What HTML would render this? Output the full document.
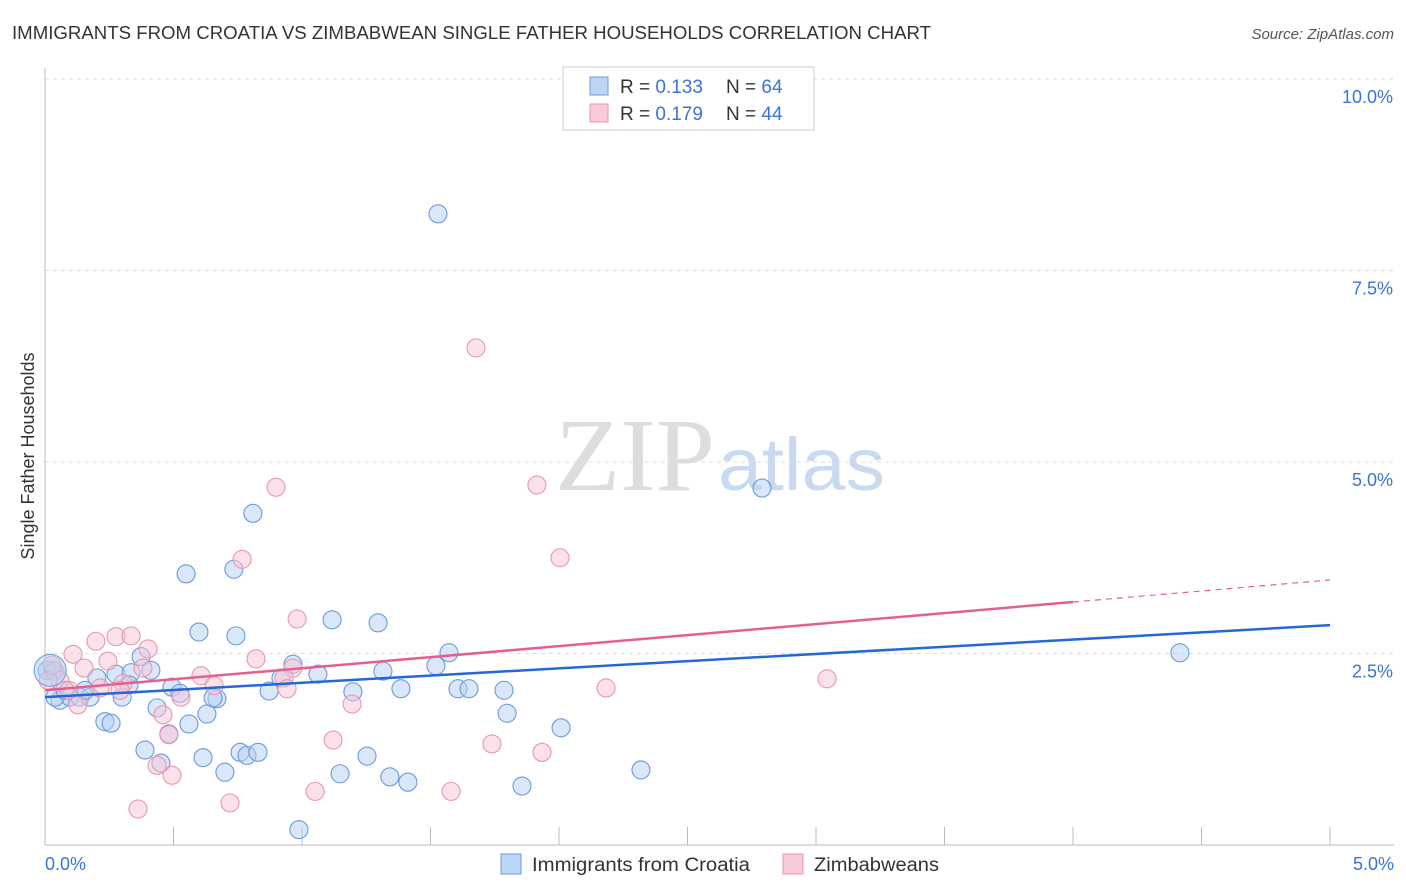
<!DOCTYPE html>
<html><head><meta charset="utf-8"><style>
body{margin:0;background:#fff;font-family:"Liberation Sans",sans-serif;}
#wrap{position:relative;width:1406px;height:892px;overflow:hidden;}
</style></head><body><div id="wrap">
<svg id="svg" width="1406" height="892" xmlns="http://www.w3.org/2000/svg">
<text x="12" y="39" font-size="18" fill="#333" textLength="919" lengthAdjust="spacingAndGlyphs">IMMIGRANTS FROM CROATIA VS ZIMBABWEAN SINGLE FATHER HOUSEHOLDS CORRELATION CHART</text>
<text x="1394" y="39" font-size="15" fill="#555" font-style="italic" text-anchor="end">Source: ZipAtlas.com</text>
<text x="555" y="490" font-size="104" fill="#ddd" textLength="160" lengthAdjust="spacingAndGlyphs" font-family="Liberation Serif,serif">ZIP</text>
<text x="718" y="490" font-size="74" fill="#c9daf0" textLength="167" lengthAdjust="spacingAndGlyphs">atlas</text>
<g id="grid"></g><g id="pts"></g><g id="lines"></g>
<text transform="translate(34,456) rotate(-90)" font-size="18" fill="#333" text-anchor="middle">Single Father Households</text>
<text x="45" y="870" font-size="18" fill="#3b73d6">0.0%</text>
<text x="1394" y="870" font-size="18" fill="#3b73d6" text-anchor="end">5.0%</text>
<rect x="563" y="67" width="251" height="63" fill="#fff" stroke="#ccc"/>
<rect x="590" y="77" width="18" height="18" fill="#bcd4f5" stroke="#6d9be0"/>
<rect x="590" y="104" width="18" height="18" fill="#f9cbd9" stroke="#e993b0"/>
<text x="620" y="93" font-size="19" fill="#333">R = <tspan fill="#3b73d6">0.133</tspan></text>
<text x="726" y="93" font-size="19" fill="#333">N = <tspan fill="#3b73d6">64</tspan></text>
<text x="620" y="120" font-size="19" fill="#333">R = <tspan fill="#3b73d6">0.179</tspan></text>
<text x="726" y="120" font-size="19" fill="#333">N = <tspan fill="#3b73d6">44</tspan></text>
<rect x="501" y="854" width="20" height="20" fill="#bcd4f5" stroke="#6d9be0"/>
<text x="532" y="871" font-size="19" fill="#333" textLength="218" lengthAdjust="spacingAndGlyphs">Immigrants from Croatia</text>
<rect x="783" y="854" width="20" height="20" fill="#f9cbd9" stroke="#e993b0"/>
<text x="814" y="871" font-size="19" fill="#333" textLength="125" lengthAdjust="spacingAndGlyphs">Zimbabweans</text>
</svg></div>
<script>
const yTicks=[2.5,5.0,7.5,10.0];
const xTicks=[0,0.5,1,1.5,2,2.5,3,3.5,4,4.5,5];
const blueX=[1.529,2.79,0.809,0.549,0.735,0.599,0.743,1.117,1.296,1.572,0.374,0.965,4.416,1.521,1.062,1.315,0.276,0.412,0.335,0.918,0.494,0.202,0.327,0.031,0.058,0.097,0.136,0.175,0.300,0.525,0.669,0.654,0.872,1.198,1.385,1.607,1.650,1.786,0.436,0.630,1.798,0.233,0.257,0.560,2.008,0.482,0.389,0.759,0.786,0.829,0.615,0.451,0.700,1.148,1.253,1.342,1.412,1.856,2.319,0.988,0.039,0.078,0.008,0.156];
const blueY=[8.24,4.66,4.33,3.54,3.60,2.78,2.73,2.94,2.90,2.51,2.46,2.36,2.51,2.34,2.23,2.27,2.23,2.28,2.25,2.18,2.06,2.18,2.09,2.28,1.89,1.93,1.93,1.93,1.93,1.98,1.91,1.92,2.01,2.00,2.04,2.04,2.04,2.02,1.79,1.71,1.72,1.61,1.59,1.58,1.53,1.45,1.24,1.21,1.17,1.21,1.14,1.07,0.95,0.93,1.16,0.89,0.82,0.77,0.98,0.20,1.93,2.02,2.28,2.02];
const pinkX=[1.677,0.899,1.914,0.767,2.004,0.981,0.109,0.198,0.276,0.335,0.401,0.245,0.152,0.039,0.058,0.093,0.214,0.304,0.381,0.607,0.658,0.821,0.965,0.930,0.942,0.529,0.292,0.459,1.195,2.183,3.043,1.121,1.739,1.934,0.482,0.436,0.494,0.720,0.362,1.051,1.580,0.012,0.027,0.128];
const pinkY=[6.49,4.67,4.70,3.73,3.75,2.95,2.49,2.66,2.72,2.73,2.56,2.40,2.31,2.27,2.15,2.02,2.05,2.11,2.31,2.21,2.08,2.43,2.31,2.18,2.04,1.93,2.02,1.70,1.84,2.05,2.17,1.37,1.32,1.21,1.44,1.04,0.91,0.55,0.47,0.70,0.70,2.15,2.35,1.83];
const blueTrend=[1.93,2.87];
const pinkTrend=[2.02,3.46];
const X=v=>45+v*257, Y=v=>845-v*76.6;
const NS="http://www.w3.org/2000/svg";
function mk(t,a,p){const e=document.createElementNS(NS,t);for(const k in a)e.setAttribute(k,a[k]);p.appendChild(e);return e;}
const grid=document.getElementById('grid'),pts=document.getElementById('pts'),lines=document.getElementById('lines'),svg=document.getElementById('svg');
yTicks.forEach(t=>{
 const l=mk('line',{x1:45,x2:1394,y1:Y(t),y2:Y(t),stroke:'#ddd','stroke-dasharray':'4,4'},grid);
 
 
 const tx=mk('text',{x:1393,y:Y(t)+24,'font-size':18,fill:'#3b73d6','text-anchor':'end'},grid);
 tx.textContent=t.toFixed(1)+'%';
 
 
});
const ax=mk('line',{x1:45,x2:1394,y1:845,y2:845,stroke:'#bbb'},grid);


const ay=mk('line',{x1:45,x2:45,y1:68,y2:845,stroke:'#bbb'},grid);


xTicks.forEach(t=>{
 const l=mk('line',{x1:X(t),x2:X(t),y1:827,y2:845,stroke:'#bbb'},grid);
 
 
});
function dots(xs,ys,fill,stroke,name){
 xs.forEach((x,i)=>{
  const c=mk('circle',{cx:X(x),cy:Y(ys[i]),r:9,fill:fill,'fill-opacity':0.5,stroke:stroke,'stroke-width':1.1},pts);
  
  
 });
}
dots(blueX,blueY,'#b5cff2','#6a9ade','point-croatia');
dots(pinkX,pinkY,'#f8c3d3','#e995b2','point-zimbabwean');
const big=mk('circle',{cx:X(0.02),cy:Y(2.28),r:16,fill:'#b5cff2','fill-opacity':0.55,stroke:'#6a9ade'},pts);


const bl=mk('line',{x1:X(0),y1:Y(blueTrend[0]),x2:X(5),y2:Y(blueTrend[1]),stroke:'#2369d4','stroke-width':2.5},lines);


const pm=v=>pinkTrend[0]+(pinkTrend[1]-pinkTrend[0])*v/5;
const pl=mk('line',{x1:X(0),y1:Y(pm(0)),x2:X(4),y2:Y(pm(4)),stroke:'#e4608b','stroke-width':2.5},lines);


const pd=mk('line',{x1:X(4),y1:Y(pm(4)),x2:X(5),y2:Y(pm(5)),stroke:'#e4608b','stroke-width':1.2,'stroke-dasharray':'6,5'},lines);


</script></body></html>
